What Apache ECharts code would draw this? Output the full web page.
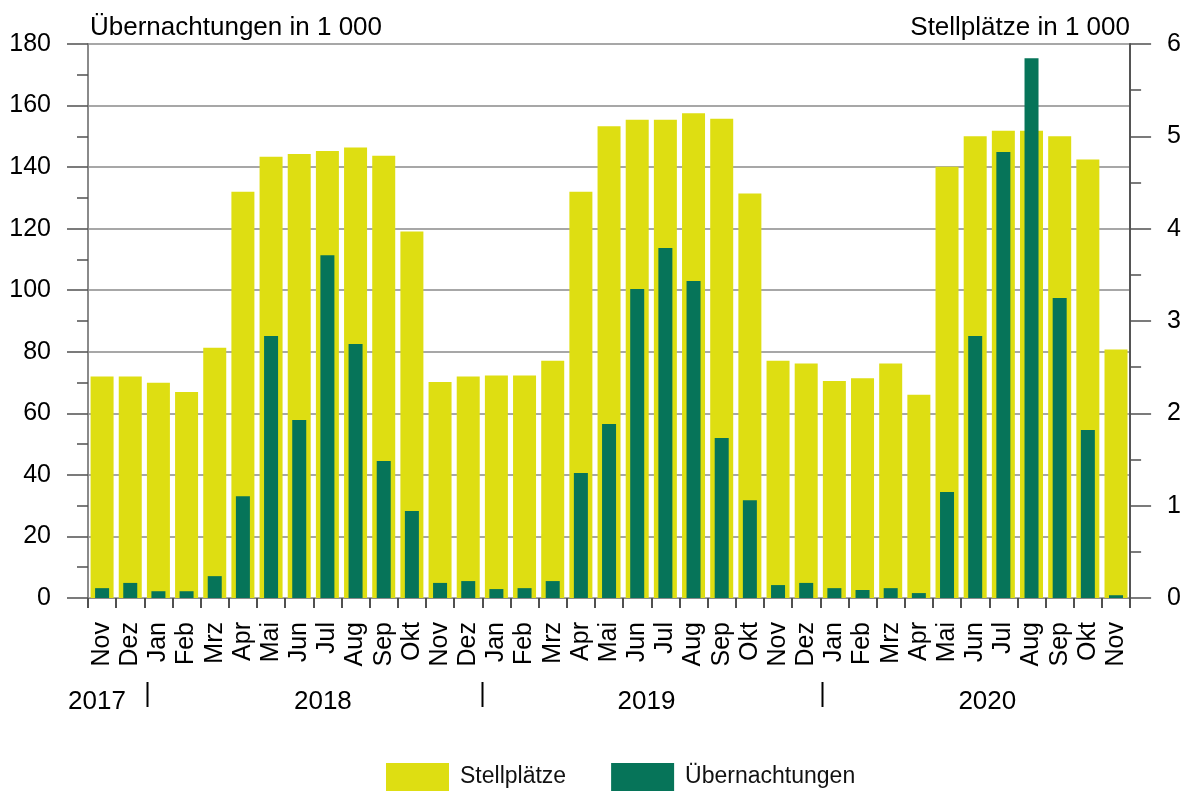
<!DOCTYPE html>
<html><head><meta charset="utf-8">
<script src="https://cdn.jsdelivr.net/npm/echarts@6/dist/echarts.min.js"></script>
<style>html,body{margin:0;padding:0;background:#fff}#c{width:1184px;height:791px}</style>
</head><body><div id="c"></div>
<script>
const months = ['Nov','Dez',
  'Jan','Feb','Mrz','Apr','Mai','Jun','Jul','Aug','Sep','Okt','Nov','Dez',
  'Jan','Feb','Mrz','Apr','Mai','Jun','Jul','Aug','Sep','Okt','Nov','Dez',
  'Jan','Feb','Mrz','Apr','Mai','Jun','Jul','Aug','Sep','Okt','Nov'];
// Stellplätze in 1 000 (right axis)
const stellplaetze = [2.40,2.40,
  2.33,2.23,2.71,4.40,4.78,4.81,4.84,4.88,4.79,3.97,2.34,2.40,
  2.41,2.41,2.57,4.40,5.11,5.18,5.18,5.25,5.19,4.38,2.57,2.54,
  2.35,2.38,2.54,2.20,4.67,5.00,5.06,5.06,5.00,4.75,2.69];
// Übernachtungen in 1 000 (left axis)
const uebernachtungen = [3.2,4.9,
  2.2,2.2,7.1,33.1,85.1,57.8,111.4,82.5,44.5,28.3,4.9,5.5,
  2.9,3.2,5.5,40.6,56.5,100.4,113.7,103.0,52.0,31.8,4.2,4.9,
  3.2,2.6,3.2,1.6,34.4,85.1,144.9,175.4,97.5,54.6,0.9];
const years = ['2017','2018','2019','2020'];
const leftTitle = 'Übernachtungen in 1 000';
const rightTitle = 'Stellplätze in 1 000';

const FONT = '"Liberation Sans", Arial, Helvetica, sans-serif';
const YELLOW = '#dede12';
const GREEN = '#067459';
const GRID = '#8a8a8a';
const TICK = '#505050';

const chart = echarts.init(document.getElementById('c'));
chart.setOption({
  animation: false,
  backgroundColor: '#fff',
  textStyle: {fontFamily: FONT},
  grid: {left: 88, right: 53, top: 44, bottom: 193, containLabel: false},
  legend: {
    data: ['Stellplätze','Übernachtungen'],
    left: 386, top: 763, padding: 0, itemWidth: 63, itemHeight: 28, itemGap: 45,
    icon: 'rect',
    textStyle: {fontFamily: FONT, fontSize: 23, color: '#111', padding: [0,0,0,6]}
  },
  xAxis: [{
    type: 'category', data: months, gridIndex: 0,
    axisLine: {show: true, lineStyle: {color: GRID, width: 1}},
    axisTick: {show: true, interval: 0, length: 10, lineStyle: {color: TICK, width: 2}},
    axisLabel: {interval: 0, rotate: 90, margin: 24, fontSize: 25, color: '#000', fontFamily: FONT},
    splitLine: {show: false}
  },{
    type: 'category', data: months, gridIndex: 0, show: false
  }],
  yAxis: [{
    type: 'value', min: 0, max: 180, interval: 20, position: 'left',
    axisLine: {show: true, lineStyle: {color: GRID, width: 2}},
    axisTick: {show: true, length: 21, lineStyle: {color: TICK, width: 1.5}},
    minorTick: {show: true, splitNumber: 2, length: 11, lineStyle: {color: TICK, width: 1.5}},
    axisLabel: {margin: 37, fontSize: 25, color: '#000', fontFamily: FONT},
    splitLine: {show: true, lineStyle: {color: GRID, width: 1.5}}
  },{
    type: 'value', min: 0, max: 6, interval: 1, position: 'right',
    axisLine: {show: true, lineStyle: {color: '#555', width: 2}},
    axisTick: {show: true, length: 21, lineStyle: {color: TICK, width: 1.5}},
    minorTick: {show: true, splitNumber: 2, length: 11, lineStyle: {color: TICK, width: 1.5}},
    axisLabel: {margin: 37, fontSize: 25, color: '#000', fontFamily: FONT},
    splitLine: {show: false}
  }],
  series: [{
    name: 'Stellplätze', type: 'bar', xAxisIndex: 0, yAxisIndex: 1,
    data: stellplaetze, barWidth: 23, itemStyle: {color: YELLOW}, z: 2
  },{
    name: 'Übernachtungen', type: 'bar', xAxisIndex: 1, yAxisIndex: 0,
    data: uebernachtungen, barWidth: 14, itemStyle: {color: GREEN}, z: 3
  }]
});

const c0 = chart.convertToPixel({xAxisIndex: 0}, 0);
const c1 = chart.convertToPixel({xAxisIndex: 0}, 1);
const w = c1 - c0;
const x0 = c0 - w / 2;
const yearPos = [0.32, 8.34, 19.83, 31.93];
const sepPos = [2.09, 14.0, 26.07];
const yTop = chart.convertToPixel({yAxisIndex: 0}, 180);
const graphics = [];
years.forEach((t, i) => {
  graphics.push({type: 'text', x: x0 + yearPos[i] * w, y: 702,
    style: {text: t, font: '26px ' + FONT, fill: '#000', textAlign: 'center', textVerticalAlign: 'middle', align: 'center', verticalAlign: 'middle'}});
});
sepPos.forEach(p => {
  const x = Math.round(x0 + p * w) + 0.5;
  graphics.push({type: 'line', shape: {x1: x, y1: 682, x2: x, y2: 707}, style: {stroke: '#000', lineWidth: 2}});
});
graphics.push({type: 'text', x: 90, y: yTop - 16,
  style: {text: leftTitle, font: '26px ' + FONT, fill: '#000', textAlign: 'left', textVerticalAlign: 'middle', align: 'left', verticalAlign: 'middle'}});
graphics.push({type: 'text', x: 1130, y: yTop - 16,
  style: {text: rightTitle, font: '26px ' + FONT, fill: '#000', textAlign: 'right', textVerticalAlign: 'middle', align: 'right', verticalAlign: 'middle'}});
chart.setOption({graphic: graphics});
</script></body></html>
